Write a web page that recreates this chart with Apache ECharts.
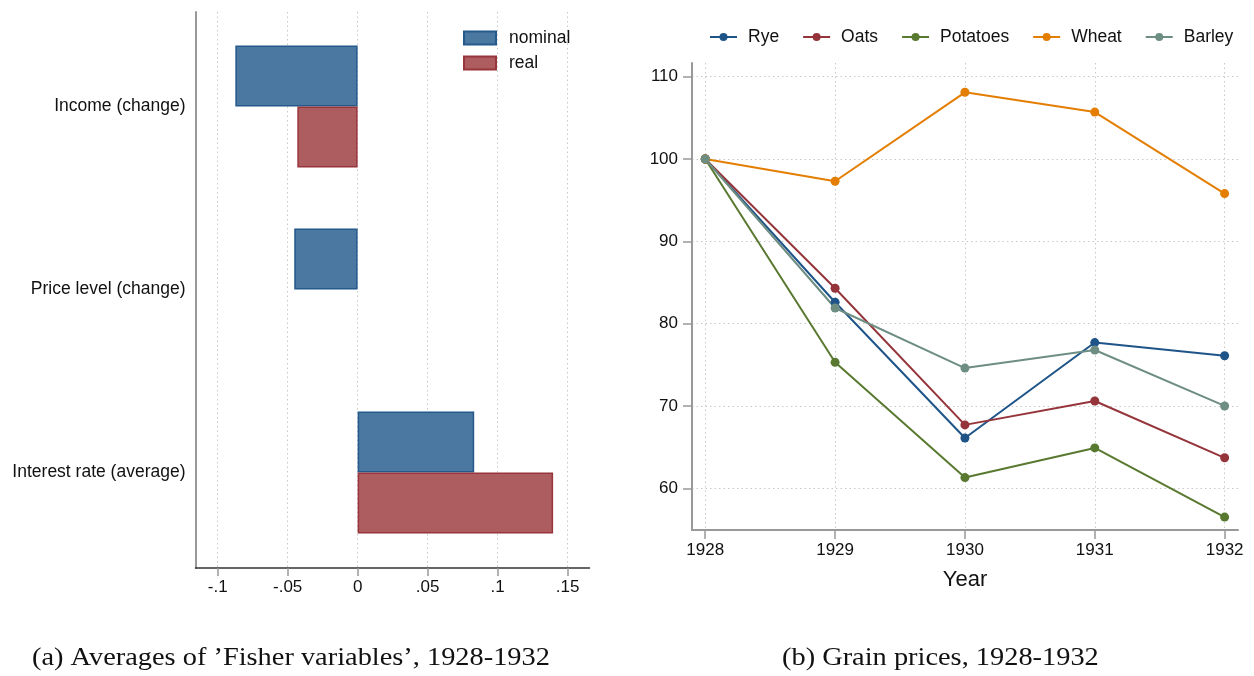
<!DOCTYPE html>
<html><head><meta charset="utf-8">
<script src="https://cdn.jsdelivr.net/npm/echarts@6/dist/echarts.min.js"></script>
<style>html,body{margin:0;padding:0;background:#fff}#c{width:1254px;height:676px}</style>
</head><body><div id="c"></div>
<script>
// ---- data ----
const fisherCategories = ['Income (change)', 'Price level (change)', 'Interest rate (average)'];
const nominalValues = [-0.0874, -0.0453, 0.0833];
const realValues = [-0.0431, '-', 0.1397];
const fisherTicks = [-0.1, -0.05, 0, 0.05, 0.1, 0.15];

const years = [1928, 1929, 1930, 1931, 1932];
const rye = [100, 82.6, 66.1, 77.7, 76.1];
const oats = [100, 84.3, 67.7, 70.6, 63.7];
const potatoes = [100, 75.3, 61.3, 64.9, 56.5];
const wheat = [100, 97.3, 108.1, 105.7, 95.8];
const barley = [100, 81.9, 74.6, 76.8, 70.0];
const priceTicks = [60, 70, 80, 90, 100, 110];

const captionA = '(a) Averages of ’Fisher variables’, 1928-1932';
const captionB = '(b) Grain prices, 1928-1932';

// ---- chart ----
const FONT = 'Liberation Sans, Arial, sans-serif';
const dotted = { show: true, lineStyle: { color: '#c8c8c8', type: [1.5, 3], width: 1 } };
const pair = arr => years.map((y, i) => [y, arr[i]]);
const fmtFisher = v => v === 0 ? '0' : (v < 0 ? '-' : '') + String(Math.abs(v)).replace(/^0/, '');

function lineSeries(name, arr, color) {
  return {
    name, type: 'line', xAxisIndex: 2, yAxisIndex: 2, data: pair(arr),
    symbol: 'circle', symbolSize: 9, clip: false,
    itemStyle: { color }, lineStyle: { color, width: 2 }
  };
}

const chart = echarts.init(document.getElementById('c'), null, { renderer: 'canvas' });
chart.setOption({
  animation: false,
  backgroundColor: '#fff',
  textStyle: { fontFamily: FONT },
  grid: [
    { left: 195.5, top: 12, width: 394, height: 556 },
    { left: 195.5, top: 15, width: 394, height: 549 },
    { left: 692, top: 63, width: 546, height: 467 }
  ],
  xAxis: [
    {
      gridIndex: 0, type: 'value', min: -0.11586, max: 0.1657,
      axisLine: { onZero: false, lineStyle: { color: '#333', width: 1.5 } },
      axisTick: { customValues: fisherTicks, length: 8, lineStyle: { color: '#999', width: 1.5 } },
      axisLabel: { customValues: fisherTicks, formatter: fmtFisher, fontSize: 17, margin: 11, color: '#111', fontFamily: FONT },
      splitLine: dotted
    },
    { gridIndex: 1, type: 'value', min: -0.11586, max: 0.1657, show: false, splitLine: { show: false } },
    {
      gridIndex: 2, type: 'value', min: 1927.898, max: 1932.103,
      axisLine: { onZero: false, lineStyle: { color: '#999', width: 2 } },
      axisTick: { customValues: years, length: 9, lineStyle: { color: '#999', width: 1.5 } },
      axisLabel: { customValues: years, formatter: v => String(Math.round(v)), fontSize: 17, margin: 12, color: '#111', fontFamily: FONT },
      splitLine: dotted,
      name: 'Year', nameLocation: 'middle', nameGap: 39,
      nameTextStyle: { fontSize: 22, color: '#111', fontFamily: FONT }
    }
  ],
  yAxis: [
    {
      gridIndex: 0, type: 'value', min: 0, max: 1,
      axisLine: { show: true, onZero: false, lineStyle: { color: '#999', width: 2 } },
      axisTick: { show: false }, axisLabel: { show: false }, splitLine: { show: false }
    },
    {
      gridIndex: 1, type: 'category', inverse: true, data: fisherCategories,
      axisLine: { show: false }, axisTick: { show: false },
      axisLabel: { fontSize: 17.5, margin: 10, color: '#111', fontFamily: FONT },
      splitLine: { show: false }
    },
    {
      gridIndex: 2, type: 'value', min: 54.93, max: 111.66,
      axisLine: { show: true, onZero: false, lineStyle: { color: '#999', width: 2 } },
      axisTick: { show: true, customValues: priceTicks, length: 9, lineStyle: { color: '#999', width: 1.5 } },
      axisLabel: { customValues: priceTicks, fontSize: 17, margin: 14, color: '#111', fontFamily: FONT },
      splitLine: dotted
    }
  ],
  legend: [
    {
      data: [{ name: 'nominal', icon: 'rect' }, { name: 'real', icon: 'rect' }],
      orient: 'vertical', left: 463, top: 29, padding: 0,
      itemWidth: 32, itemHeight: 13, itemGap: 7,
      textStyle: { fontSize: 17.5, color: '#111', fontFamily: FONT, padding: [0, 0, 0, 8] }
    },
    {
      data: ['Rye', 'Oats', 'Potatoes', 'Wheat', 'Barley'], orient: 'horizontal', left: 709, top: 28, padding: 0,
      itemWidth: 27, itemHeight: 10, itemGap: 23,
      textStyle: { fontSize: 17.5, color: '#111', fontFamily: FONT, padding: [0, 0, 0, 6] }
    }
  ],
  series: [
    {
      name: 'nominal', type: 'bar', xAxisIndex: 1, yAxisIndex: 1, data: nominalValues,
      barWidth: 61, barGap: '0%',
      itemStyle: { color: '#4a78a0', borderColor: '#24598b', borderWidth: 1.5 }
    },
    {
      name: 'real', type: 'bar', xAxisIndex: 1, yAxisIndex: 1, data: realValues,
      barWidth: 61, barGap: '0%',
      itemStyle: { color: '#ad5c5f', borderColor: '#98343b', borderWidth: 1.5 }
    },
    lineSeries('Rye', rye, '#1e5488'),
    lineSeries('Oats', oats, '#95343a'),
    lineSeries('Potatoes', potatoes, '#58792f'),
    lineSeries('Wheat', wheat, '#e37e00'),
    lineSeries('Barley', barley, '#6e8e84')
  ],
  graphic: [
    { type: 'text', x: 32, y: 646, scaleX: 1.135,
      style: { text: captionA, font: '25px "Liberation Serif", serif', fill: '#111', verticalAlign: 'top' } },
    { type: 'text', x: 782, y: 646, scaleX: 1.135,
      style: { text: captionB, font: '25px "Liberation Serif", serif', fill: '#111', verticalAlign: 'top' } }
  ]
});
</script>
</body></html>
